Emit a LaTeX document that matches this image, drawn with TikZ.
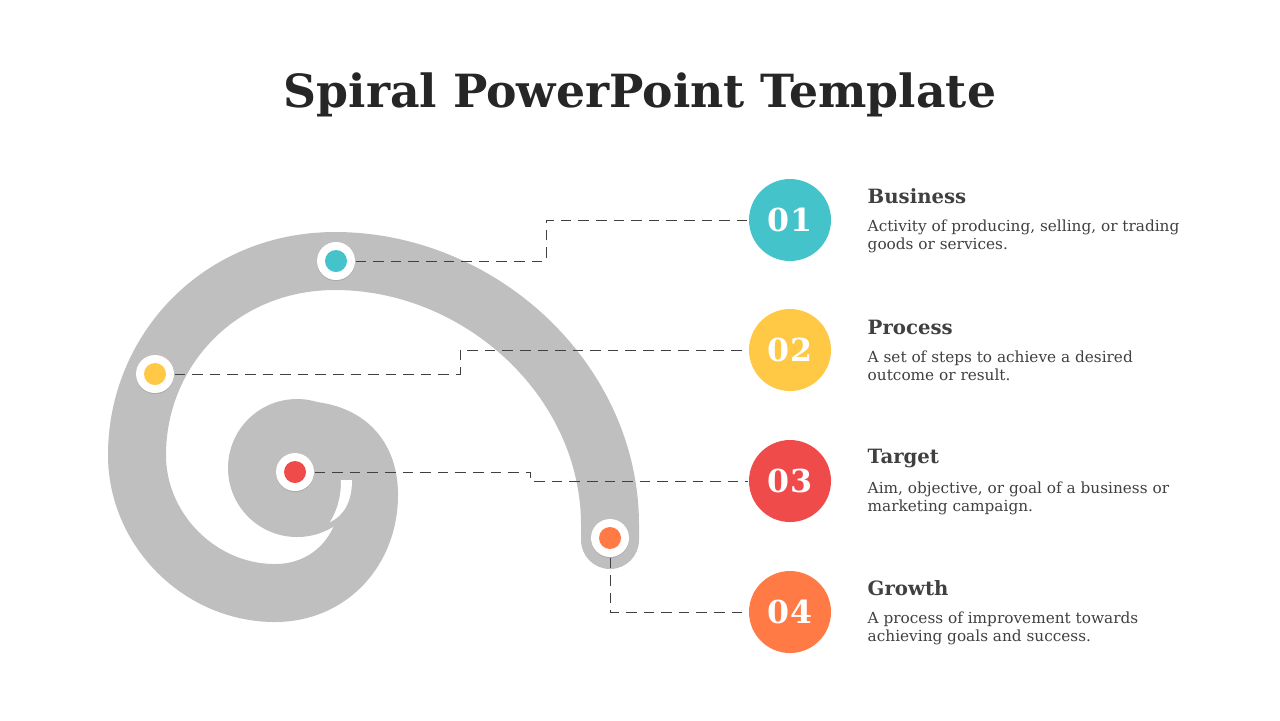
\documentclass[tikz,border=0pt]{standalone}
\usepackage{fontspec}
\setmainfont{DejaVu Serif}
\usetikzlibrary{shadows}
\definecolor{cteal}{HTML}{45C3CB}
\definecolor{cyellow}{HTML}{FFC845}
\definecolor{cred}{HTML}{F04B4B}
\definecolor{corange}{HTML}{FF7A45}
\definecolor{cband}{HTML}{BFBFBF}
\definecolor{ctext}{HTML}{404040}
\begin{document}
\begin{tikzpicture}[x=0.01cm,y=-0.01cm]
\tikzstyle{dot}=[circle,fill=white,minimum size=38*0.01cm,inner sep=0,drop shadow={opacity=0.3,shadow xshift=0pt,shadow yshift=-0.3pt}]
\tikzstyle{core}=[circle,minimum size=22*0.01cm,inner sep=0]
\tikzstyle{num}=[circle,minimum size=82*0.01cm,inner sep=0,text=white,font=\fontsize{9}{10}\selectfont\bfseries]
\tikzstyle{head}=[anchor=west,text=ctext,font=\fontsize{5.6}{7}\selectfont\bfseries,inner sep=0]
\tikzstyle{body}=[anchor=north west,text=ctext,font=\fontsize{4.35}{5.3}\selectfont,align=left,inner sep=0]
\tikzstyle{link}=[densely dashed,draw=ctext,line width=0.25pt]
\useasboundingbox (0,0) rectangle (1280,720);
\node[text=black!85,font=\fontsize{13}{15}\selectfont\bfseries] (title) at (640,95) {Spiral PowerPoint Template};
% spiral band
\fill[cband] (297,468) circle (69);
\draw[cband,line width=58*0.01cm,line cap=round] (610,540) -- (610,525)
  .. controls (610,380) and (480,261) .. (335,261)
  .. controls (220,261) and (137,350) .. (137,455)
  .. controls (137,530) and (200,593) .. (275,593)
  .. controls (330,593) and (369,550) .. (369,495)
  .. controls (369,450) and (340,430) .. (300,430);
\fill[white] (341,480) .. controls (341,500) and (336,512) .. (330,522)
  .. controls (345,515) and (352,500) .. (352,480) -- cycle;
% dots on the spiral
\node[dot] (d1) at (336,261) {}; \node[core,fill=cteal] at (d1) {};
\node[dot] (d2) at (155,374) {}; \node[core,fill=cyellow] at (d2) {};
\node[dot] (d3) at (295,472) {}; \node[core,fill=cred] at (d3) {};
\node[dot] (d4) at (610,538) {}; \node[core,fill=corange] at (d4) {};
% numbered circles
\node[num,fill=cteal] (n1) at (790,220) {01};
\node[num,fill=cyellow] (n2) at (790,350) {02};
\node[num,fill=cred] (n3) at (790,481) {03};
\node[num,fill=corange] (n4) at (790,612) {04};
% connectors
\draw[link] (d1.east) -- (546,261) -- (546,220) -- (n1.west);
\draw[link] (d2.east) -- (460,374) -- (460,350) -- (n2.west);
\draw[link] (d3.east) -- (530,472) -- (530,481) -- (n3.west);
\draw[link] (d4.south) -- (610,612) -- (n4.west);
% texts
\node[head] (h1) at (867,196) {Business};
\node[body] (b1) at (867,219) {Activity of producing, selling, or trading\\goods or services.};
\node[head] (h2) at (867,327) {Process};
\node[body] (b2) at (867,350) {A set of steps to achieve a desired\\outcome or result.};
\node[head] (h3) at (867,458) {Target};
\node[body] (b3) at (867,481) {Aim, objective, or goal of a business or\\marketing campaign.};
\node[head] (h4) at (867,588) {Growth};
\node[body] (b4) at (867,611) {A process of improvement towards\\achieving goals and success.};
\end{tikzpicture}
\end{document}
